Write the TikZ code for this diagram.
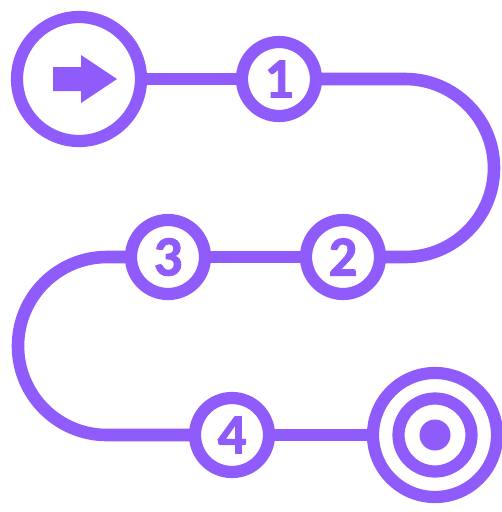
\documentclass[tikz,border=0pt]{standalone}
\usepackage{fontspec}
\setmainfont[BoldFeatures={FakeBold=1.6}]{Carlito}
\definecolor{pathpurple}{HTML}{8F5BFB}
\tikzset{
  x=1pt,y=-1pt,
  ring/.style={circle,draw=pathpurple,line width=12.2pt,fill=white,inner sep=0pt,outer sep=0pt},
  bigring/.style={ring,minimum size=124pt},
  stopring/.style={ring,minimum size=74pt,text=pathpurple,font=\bfseries\fontsize{57}{57}\selectfont},
  link/.style={draw=pathpurple,line width=12.6pt}
}
\begin{document}
\begin{tikzpicture}
\useasboundingbox (0,0) rectangle (502,512);
\coordinate (c1) at (405,79);
\coordinate (c2) at (405,257);
\coordinate (c3) at (107,257);
\coordinate (c4) at (107,435);
\node[bigring] (start) at (79,79) {};
\fill[pathpurple] (53,67) -- (81,67) -- (81,55) -- (117,79) -- (81,103) -- (81,91) -- (53,91) -- cycle;
\node[stopring] (s1) at (279,79) {1};
\node[stopring] (s2) at (343,257) {2};
\node[stopring] (s3) at (168,257) {3};
\node[stopring] (s4) at (232,435) {4};
\node[bigring] (goal) at (435,435) {};
\node[ring,minimum size=73pt] (goalmid) at (435,435) {};
\node[circle,fill=pathpurple,minimum size=31pt,inner sep=0pt] (goalcore) at (435,435) {};
\draw[link] (start) -- (s1);
\draw[link] (s1) -- (c1) arc[start angle=-90,end angle=90,radius=89] -- (s2);
\draw[link] (s2) -- (s3);
\draw[link] (s3) -- (c3) arc[start angle=-90,end angle=-270,radius=89] -- (s4);
\draw[link] (s4) -- (goal);
\end{tikzpicture}
\end{document}
